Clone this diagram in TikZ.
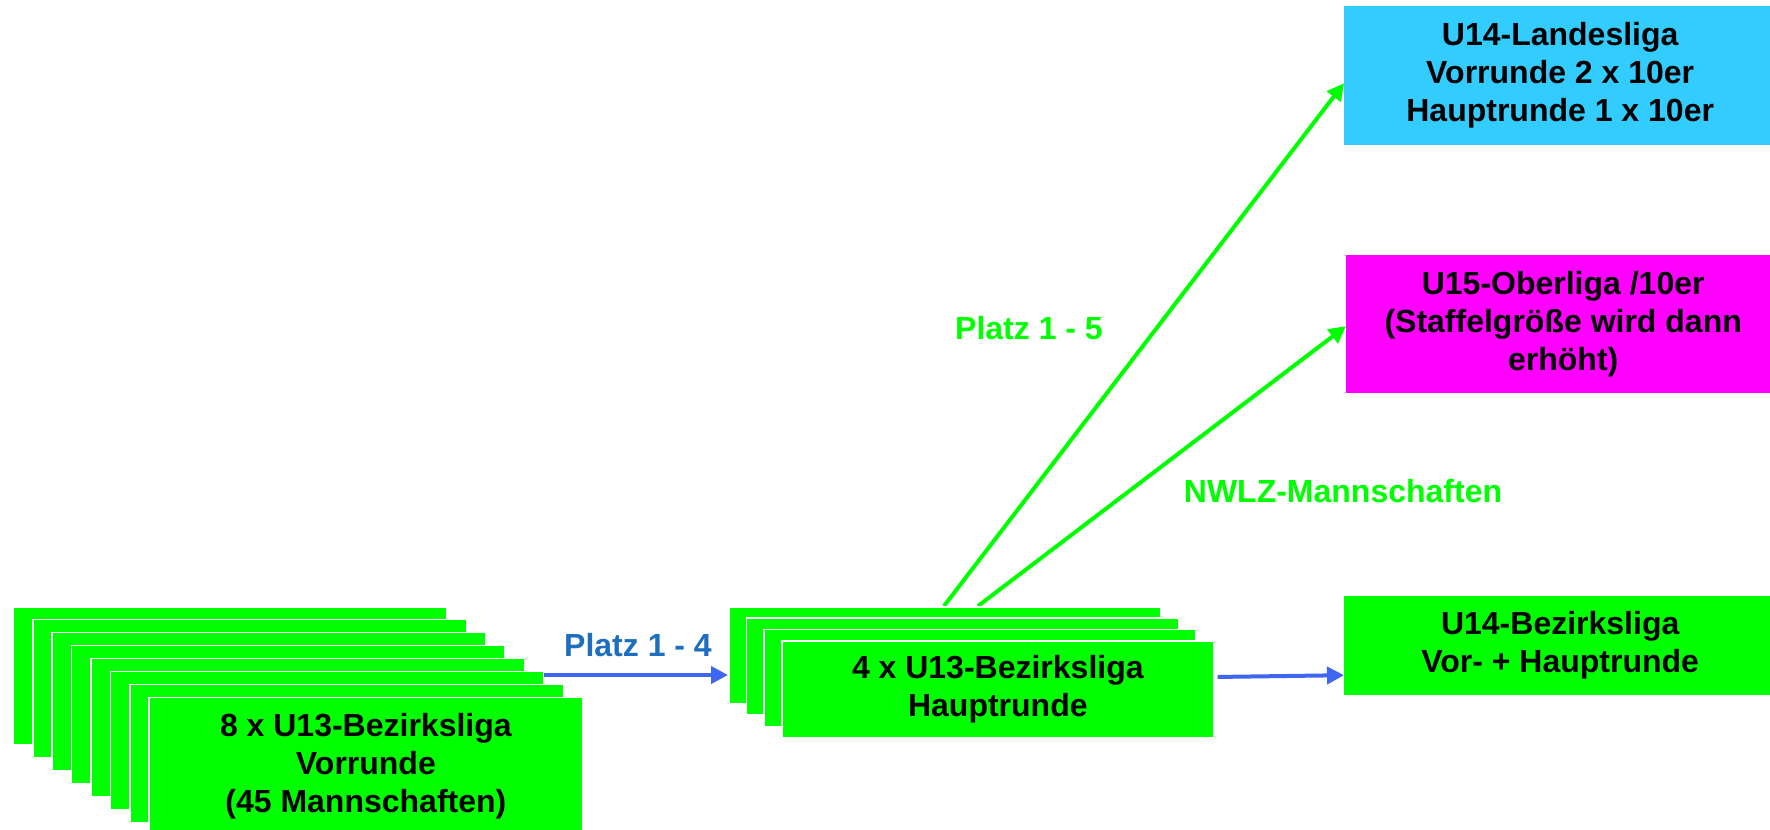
\documentclass[tikz,border=0pt]{standalone}
\usepackage{fontspec}
\setmainfont{Liberation Sans}
\usetikzlibrary{arrows.meta}
\definecolor{lgreen}{HTML}{00FF00}
\definecolor{lcyan}{HTML}{33CCFF}
\definecolor{lmag}{HTML}{FF00FF}
\definecolor{arrblue}{HTML}{3F66F0}
\definecolor{lblblue}{HTML}{1E6EC0}
\begin{document}
\begin{tikzpicture}[x=1pt,y=-1pt,
  txt/.style={font=\bfseries\fontsize{32}{38}\selectfont, align=center, inner sep=0pt},
  box/.style={txt, draw=white, line width=1.5pt, fill=lgreen, anchor=north west},
  stackA/.style={box, minimum width=433.5pt, minimum height=138pt},
  stackB/.style={box, minimum width=432pt, minimum height=97pt},
  target/.style={txt, anchor=north west, minimum width=432pt, minimum height=139pt},
  bluearr/.style={draw=arrblue, line width=4pt, -{Triangle[length=17pt,width=17pt]}},
  greenarr/.style={draw=lgreen, line width=4pt, -{Triangle[length=17pt,width=17pt]}},
  lbl/.style={txt}]
\useasboundingbox (0,0) rectangle (1770,830);
\clip (0,0) rectangle (1770,830);
\fill[white] (0,0) rectangle (1770,830);

% stack 1
\foreach \i in {0,...,6}
  \node[stackA] (s1\i) at ({12.6+19.4*\i},{606+12.95*\i}) {};
\node[stackA] (s17) at ({12.6+19.4*7},{606+12.95*7}) {8 x U13-Bezirksliga\\Vorrunde\\(45 Mannschaften)};

% green arrows behind stack 2
\coordinate (g1s) at (944,606);
\coordinate (g2s) at (978,606);

% targets
\node[target, fill=lcyan] (land) at (1344,6) {U14-Landesliga\\Vorrunde 2 x 10er\\Hauptrunde 1 x 10er};
\node[target, fill=lmag, minimum height=138pt, minimum width=434pt] (ober) at (1346,255) {U15-Oberliga /10er\\(Staffelgröße wird dann\\erhöht)};
\node[target, fill=lgreen, minimum height=99pt] (bez) at (1344,596) {U14-Bezirksliga\\Vor- + Hauptrunde};

\draw[greenarr] (g1s) -- ([yshift=-7.5pt]land.west);
\draw[greenarr] (g2s) -- ([yshift=-2pt]ober.west);

% stack 2
\foreach \i in {0,...,2}
  \node[stackB] (s2\i) at ({728+17.7*\i},{606+11.4*\i}) {};
\node[stackB] (s23) at ({728+17.7*3},{606+11.4*3}) {4 x U13-Bezirksliga\\Hauptrunde};

% blue arrows
\coordinate (b1s) at (544,675);
\draw[bluearr] (b1s) -- (b1s -| s20.west);
\draw[bluearr] ([xshift=3pt,yshift=12.5pt]s23.east) -- ([yshift=-29.5pt]bez.west);

% labels
\node[lbl, text=lblblue] (l1) at (638,645) {Platz 1 - 4};
\node[lbl, text=lgreen] (l2) at (1029,328) {Platz 1 - 5};
\node[lbl, text=lgreen] (l3) at (1343,491) {NWLZ-Mannschaften};
\end{tikzpicture}
\end{document}
